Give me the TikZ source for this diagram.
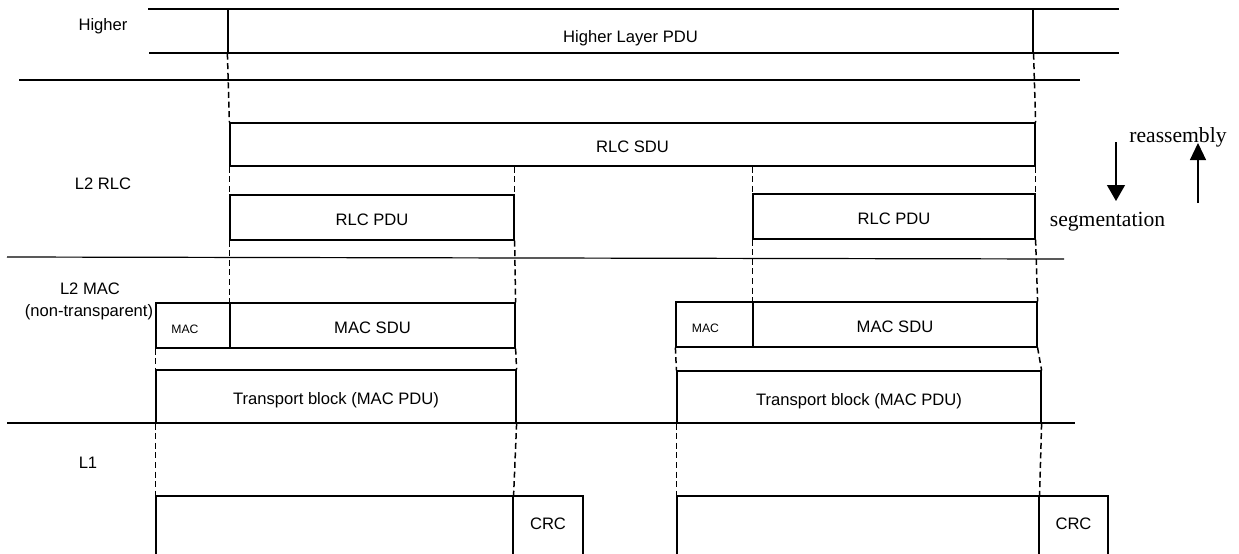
\documentclass[tikz,border=0pt]{standalone}
\usepackage{fontspec}
\setmainfont{Liberation Sans}
\newfontfamily\timesfont{Liberation Serif}
\usetikzlibrary{arrows.meta}

\begin{document}
\begin{tikzpicture}[x=1pt, y=1pt,
	pdu/.style={draw, inner sep=0pt, text height=8pt, text depth=0pt, font=\fontsize{8.3}{10}\selectfont},
	cut/.style={line width=0.75pt, dash pattern=on 3pt off 1.8pt},
	layer/.style={font=\fontsize{8.3}{10}\selectfont},
	hdr/.style={font=\fontsize{6.1}{8}\selectfont},
	dir/.style={font=\timesfont\fontsize{10.8}{13}\selectfont}]
	\begin{scope}[xscale=.5, yscale=-.5, line width=0.6pt]

		\useasboundingbox (0, 0) rectangle (1239, 553);
		\clip (0, 0) rectangle (1239, 553);

		% layer names
		\node[layer] (higher) at (103, 26) {Higher};
		\node[layer] (l2rlc) at (103, 184) {L2 RLC};
		\node[layer] (l2mac) at (90, 289) {L2 MAC};
		\node[layer] (nontr) at (89, 312) {(non-transparent)};
		\node[layer] (l1) at (88, 463) {L1};

		% layer borders
		\draw (148, 9) -- (1119, 9); % higher top
		\draw (149, 53) -- (1119, 53); % higher bottom
		\draw (19, 80) -- (1080, 80); % higher / RLC
		\draw (7, 257) -- (1064, 259); % RLC / MAC
		\draw (7, 423) -- (1075, 423); % MAC / L1

		% higher layer
		\node[pdu, minimum width=402.5pt, minimum height=22pt, text height=11pt] (hlpdu) at (630.5, 31) {Higher Layer PDU};

		% RLC
		\node[pdu, minimum width=402.5pt, minimum height=21.5pt] (rlcsdu) at (632.5, 144.5) {RLC SDU};
		\node[pdu, minimum width=142pt, minimum height=22.5pt] (rlcpduA) at (372, 217.5) {RLC PDU};
		\node[pdu, minimum width=141pt, minimum height=22.5pt] (rlcpduB) at (894, 216.5) {RLC PDU};

		% MAC
		\node[pdu, hdr, minimum width=37pt, minimum height=22.5pt] (machdrA) at (193, 325.5) {\hspace*{-8pt}MAC};
		\node[pdu, minimum width=142.5pt, minimum height=22.5pt] (macsduA) at (372.5, 325.5) {MAC SDU};
		\node[pdu, hdr, minimum width=38.5pt, minimum height=22.5pt] (machdrB) at (714.5, 324.5) {\hspace*{-9pt}MAC};
		\node[pdu, minimum width=142pt, minimum height=22.5pt] (macsduB) at (895, 324.5) {MAC SDU};
		\node[pdu, minimum width=180pt, minimum height=26.5pt] (tbA) at (336, 396.5) {Transport block (MAC PDU)};
		\node[pdu, minimum width=182pt, minimum height=26pt] (tbB) at (859, 397) {Transport block (MAC PDU)};

		% L1
		\node[pdu, minimum width=178.5pt, minimum height=37pt] (l1A) at (334.5, 533) {};
		\node[pdu, minimum width=35pt, minimum height=37pt, text depth=12pt] (crcA) at (548, 533) {CRC};
		\node[pdu, minimum width=181pt, minimum height=37pt] (l1B) at (858, 533) {};
		\node[pdu, minimum width=34.5pt, minimum height=37pt, text depth=12pt] (crcB) at (1073.5, 533) {CRC};

		% higher layer -> RLC SDU
		\draw[cut] (hlpdu.south west) -- (rlcsdu.north west);
		\draw[cut] (hlpdu.south east) -- (rlcsdu.north east);

		% RLC SDU -> RLC PDU
		\draw[cut] (rlcsdu.south west) -- (rlcpduA.north west);
		\draw[cut] (rlcpduA.north east |- rlcsdu.south) -- (rlcpduA.north east);
		\draw[cut] (rlcpduB.north west |- rlcsdu.south) -- (rlcpduB.north west);
		\draw[cut] (rlcsdu.south east) -- (rlcpduB.north east);

		% RLC PDU -> MAC SDU
		\draw[cut] (rlcpduA.south west) -- (macsduA.north west);
		\draw[cut] (rlcpduA.south east) -- (macsduA.north east);
		\draw[cut] (rlcpduB.south west) -- (macsduB.north west);
		\draw[cut] (rlcpduB.south east) -- (macsduB.north east);

		% MAC PDU -> transport block
		\draw[cut] (machdrA.south west) -- (tbA.north west);
		\draw[cut] (macsduA.south east) -- (tbA.north east);
		\draw[cut] (machdrB.south west) -- (tbB.north west);
		\draw[cut] (macsduB.south east) -- (tbB.north east);

		% transport block -> L1
		\draw[cut] (tbA.south west) -- (l1A.north west);
		\draw[cut] (tbA.south east) -- (l1A.north east);
		\draw[cut] (tbB.south west) -- (l1B.north west);
		\draw[cut] (tbB.south east) -- (l1B.north east);

		% direction arrows
		\coordinate (segtop) at (1116, 142);
		\coordinate (segbot) at (1116, 201);
		\coordinate (reabot) at (1198, 203);
		\coordinate (reatop) at (1198, 143);
		\draw[-{Triangle[width=9pt, length=8pt]}] (segtop) -- (segbot); % down
		\draw[-{Triangle[width=8pt, length=8.5pt]}] (reabot) -- (reatop); % up
		\node[dir] (reasm) at (1178, 137) {reassembly};
		\node[dir] (segm) at (1107.5, 222) {segmentation};

	\end{scope}
\end{tikzpicture}
\end{document}
